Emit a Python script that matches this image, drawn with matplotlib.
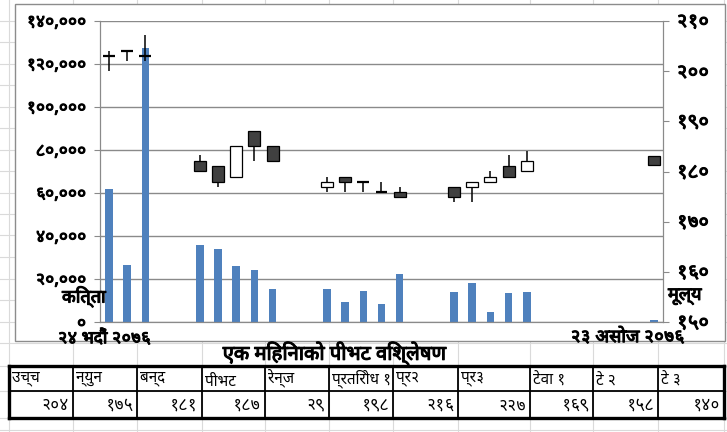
import matplotlib
matplotlib.use("Agg")
import matplotlib.pyplot as plt
from matplotlib import font_manager
from matplotlib.font_manager import FontProperties
from matplotlib.ft2font import FT2Font
from matplotlib.lines import Line2D
from matplotlib.patches import Rectangle
import matplotlib.patheffects as pe

W, H = 727, 432

# days counted from 24 Bhadra 2076 (trading days only)
day_offset = [0, 1, 2, 5, 6, 7, 8, 9, 12, 13, 14, 15, 16, 19, 20, 21, 22, 23, 30]
volume = [62000, 26500, 127300, 35800, 34000, 26000, 24200, 15300,
          15300, 9300, 14400, 8400, 22300,
          14000, 18100, 4650, 13500, 14000, 1000]
price_open = [203, 204, 203, 182.1, 181.1, 178.9, 188.1, 185.1,
              176.9, 178.9, 177.9, 175.9, 175.9,
              176.9, 176.9, 177.9, 181.1, 180.1, 183.0]
price_high = [204, 204, 207.2, 183.3, 181.1, 185.1, 188.1, 185.1,
              178.9, 178.9, 177.9, 177.9, 176.9,
              176.9, 177.9, 180.1, 183.3, 184.1, 183.0]
price_low = [200, 202, 202, 180.1, 176.9, 178.9, 182.1, 182.1,
             175.9, 175.9, 175.9, 175.9, 174.9,
             173.9, 173.9, 177.9, 178.9, 180.1, 181.2]
price_close = [203, 204, 203, 180.1, 177.9, 185.1, 185.1, 182.1,
               177.9, 177.9, 177.9, 175.9, 174.9,
               174.9, 177.9, 178.9, 178.9, 182.1, 181.2]

n_days = 31
start_label = "२४ भदौं २०७६"
end_label = "२३ असोज २०७६"
vol_ticks = [0, 20000, 40000, 60000, 80000, 100000, 120000, 140000]
price_ticks = [150, 160, 170, 180, 190, 200, 210]

title = "एक मिहिनाको पीभट विश्लेषण"
table_heads = ["उच्च", "न्युन", "बन्द", "पीभट", "रेन्ज", "प्रतिरोध १",
               "प्र२", "प्र३", "टेवा १", "टे २", "टे ३"]
table_vals = [204, 175, 181, 187, 29, 198, 216, 227, 169, 158, 140]

DEV_DIGITS = str.maketrans("0123456789", "०१२३४५६७८९")


def to_dev(s):
    return str(s).translate(DEV_DIGITS)


def devanagari_fonts():
    """Installed font files that have a glyph for U+0915."""
    found = []
    for f in font_manager.fontManager.ttflist:
        try:
            if 0x0915 in FT2Font(f.fname).get_charmap():
                found.append(f)
        except Exception:
            pass
    return found


def pick_font(cands):
    prefs = ["Noto Sans Devanagari", "Lohit", "FreeSans", "FreeSerif", "Mukta",
             "Hind", "Kalimati", "Gargi", "Samanata"]
    for p in prefs:
        for f in cands:
            if p.lower() in f.name.lower() and f.weight in (400, "normal", "regular"):
                return f.fname
    for f in cands:
        if "unifont" not in f.name.lower() and "mono" not in f.name.lower():
            return f.fname
    return cands[0].fname if cands else None


deva_path = pick_font(devanagari_fonts())


def fp(size):
    if deva_path:
        return FontProperties(fname=deva_path, size=size)
    return FontProperties(family="DejaVu Sans", size=size)


# the sheet uses a heavy face, fake it with a thin outline
BOLD = [pe.withStroke(linewidth=0.8, foreground="black")]


def fx(x):
    return x / W


def fy(y):
    return 1 - y / H


fig = plt.figure(figsize=(W / 100, H / 100), dpi=100)
fig.patch.set_facecolor("white")

# spreadsheet cell grid in the background
sheet_col = "#dadada"
col_edges = [9, 73, 137, 202, 265, 329, 393, 458, 530, 593, 658, 724]
for x in col_edges:
    fig.add_artist(Line2D([fx(x), fx(x)], [0, 1], color=sheet_col, lw=0.8, zorder=-3))
row_y = 343.0
while row_y > 0:
    fig.add_artist(Line2D([0, 1], [fy(row_y), fy(row_y)], color=sheet_col, lw=0.8, zorder=-3))
    row_y -= 21.5
for y in [366, 391, 418, 430]:
    fig.add_artist(Line2D([0, 1], [fy(y), fy(y)], color=sheet_col, lw=0.8, zorder=-3))

# chart area box
fig.add_artist(Rectangle((fx(15), fy(341)), fx(725) - fx(15), fy(4) - fy(341),
                         facecolor="white", edgecolor="#8c8c8c", lw=1.0, zorder=-1))

ax = fig.add_axes([fx(100), fy(322), fx(663) - fx(100), fy(21) - fy(322)])
ax2 = ax.twinx()
ax.set_zorder(1)
ax2.set_zorder(2)
ax.patch.set_facecolor("white")
ax2.patch.set_visible(False)

ax.bar(day_offset, volume, width=0.42, color="#4f81bd", zorder=2)
ax.set_xlim(-0.5, n_days - 0.5)
ax.set_ylim(0, 140000)
ax.set_yticks(vol_ticks, [to_dev(f"{v:,}") for v in vol_ticks],
              fontproperties=fp(12), path_effects=BOLD)
ax.grid(axis="y", color="#8a8a8a", lw=1.0, zorder=0)
ax.set_axisbelow(True)
ax.set_xticks([])
ax.tick_params(axis="y", length=4, color="#8a8a8a", pad=6)

# candlesticks on the price axis
body_w = 0.66
for d, o, h, l, c in zip(day_offset, price_open, price_high, price_low, price_close):
    ax2.vlines(d, l, h, color="black", lw=1.1, zorder=3)
    if abs(c - o) < 0.05:
        ax2.hlines(o, d - body_w / 2, d + body_w / 2, color="black", lw=1.6, zorder=4)
    else:
        face = "white" if c > o else "#404040"
        ax2.bar(d, abs(c - o), bottom=min(o, c), width=body_w,
                color=face, edgecolor="black", lw=0.9, zorder=4)
ax2.set_ylim(150, 210)
ax2.set_yticks(price_ticks, [to_dev(v) for v in price_ticks],
               fontproperties=fp(14), path_effects=BOLD)
ax2.tick_params(axis="y", length=4, color="#8a8a8a", pad=6)

for a in (ax, ax2):
    for side in ("left", "right", "bottom"):
        a.spines[side].set_color("#8a8a8a")
    a.spines["top"].set_visible(False)

# axis captions
fig.text(fx(62), fy(297), "कित्ता", fontproperties=fp(13), path_effects=BOLD,
         va="center", ha="left")
fig.text(fx(668), fy(297), "मूल्य", fontproperties=fp(13), path_effects=BOLD,
         va="center", ha="left")
fig.text(fx(58), fy(336), start_label, fontproperties=fp(12.5), path_effects=BOLD,
         va="center", ha="left")
fig.text(fx(684), fy(335), end_label, fontproperties=fp(13), path_effects=BOLD,
         va="center", ha="right")

# pivot table under the chart
fig.text(fx(335), fy(353), title, fontproperties=fp(14.5), path_effects=BOLD,
         ha="center", va="center")
top, mid, bot = 366, 391, 418
for i, x in enumerate(col_edges):
    outer = i in (0, len(col_edges) - 1)
    fig.add_artist(Line2D([fx(x), fx(x)], [fy(top), fy(bot)], color="black",
                          lw=2.4 if outer else 1.3, zorder=2))
for y, lw in [(top, 2.4), (mid, 1.3), (bot, 2.4)]:
    fig.add_artist(Line2D([fx(col_edges[0]), fx(col_edges[-1])], [fy(y), fy(y)],
                          color="black", lw=lw, zorder=2))
for i, (head, val) in enumerate(zip(table_heads, table_vals)):
    x0, x1 = col_edges[i], col_edges[i + 1]
    fig.text(fx(x0 + 3), fy((top + mid) / 2), head, fontproperties=fp(11),
             ha="left", va="center")
    fig.text(fx(x1 - 4), fy((mid + bot) / 2), to_dev(val), fontproperties=fp(12),
             ha="right", va="center")

fig.savefig("out.png", dpi=100)
